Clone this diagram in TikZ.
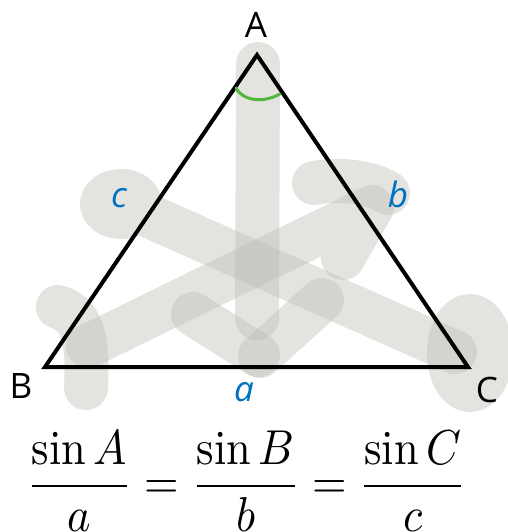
\documentclass[tikz,border=0pt]{standalone}
\usepackage{graphicx}
\usepackage{fontspec}
\usepackage{amsmath}
\newfontfamily\labelfont{Open Sans}
\definecolor{sidelabel}{RGB}{0,112,192}
\definecolor{anglemark}{RGB}{80,185,60}
\definecolor{marker}{RGB}{190,188,182}
\tikzset{
  vertex/.style={font=\labelfont\fontsize{17.5}{20}\selectfont, inner sep=0pt, anchor=base},
  sidelbl/.style={vertex, text=sidelabel, font=\labelfont\itshape\fontsize{17.5}{20}\selectfont},
  hlstroke/.style={draw=marker, draw opacity=0.42, line width=22pt,
                   line cap=round, line join=round},
  triside/.style={draw, line width=2pt, line join=miter},
  formula/.style={inner sep=0pt, anchor=base},
}

\begin{document}
\begin{tikzpicture}[x=0.5pt, y=-0.5pt]
    \useasboundingbox (0,0) rectangle (508,532);
    \clip (0,0) rectangle (508,532);
    \draw[hlstroke] (258,64) -- (257,318);
    \draw[hlstroke] (121,204) ellipse[x radius=19, y radius=13] (140,212) -- (455,352);
    \draw[hlstroke] (314,183) .. controls (340,178) and (370,182) .. (388,193);
    \draw[hlstroke] (343,258) -- (372,207) -- (88,346);
    \draw[hlstroke] (58,307) .. controls (85,315) and (88,345) .. (86,388);
    \draw[hlstroke] (470,353) ellipse[x radius=21, y radius=37];
    \draw[hlstroke] (193,314) -- (258,355);
    \draw[hlstroke] (322,300) -- (260,356);
    \coordinate (A) at (257,55);
    \coordinate (B) at (45,367);
    \coordinate (C) at (468,367);
    \draw[triside] (A) -- (B) -- (C) -- cycle;
    \draw[anglemark, line width=1.5pt, line cap=round] (236,88) .. controls (242,100) and (262,104) .. (280,94);
    \node[vertex] (lA) at (256,37) {A};
    \node[vertex] (lB) at (21,398) {B};
    \node[vertex] (lC) at (487,402) {C};
    \node[sidelbl] (la) at (244,401) {a};
    \node[sidelbl] (lb) at (398,207) {b};
    \node[sidelbl] (lc) at (119,207) {c};
    \node[formula] (law) at (246.5,498) {\scalebox{2.22}[2.45]{$\displaystyle\frac{\sin A}{a}=\frac{\sin B}{b}=\frac{\sin C}{c}$}};
  \end{tikzpicture}
\end{document}
